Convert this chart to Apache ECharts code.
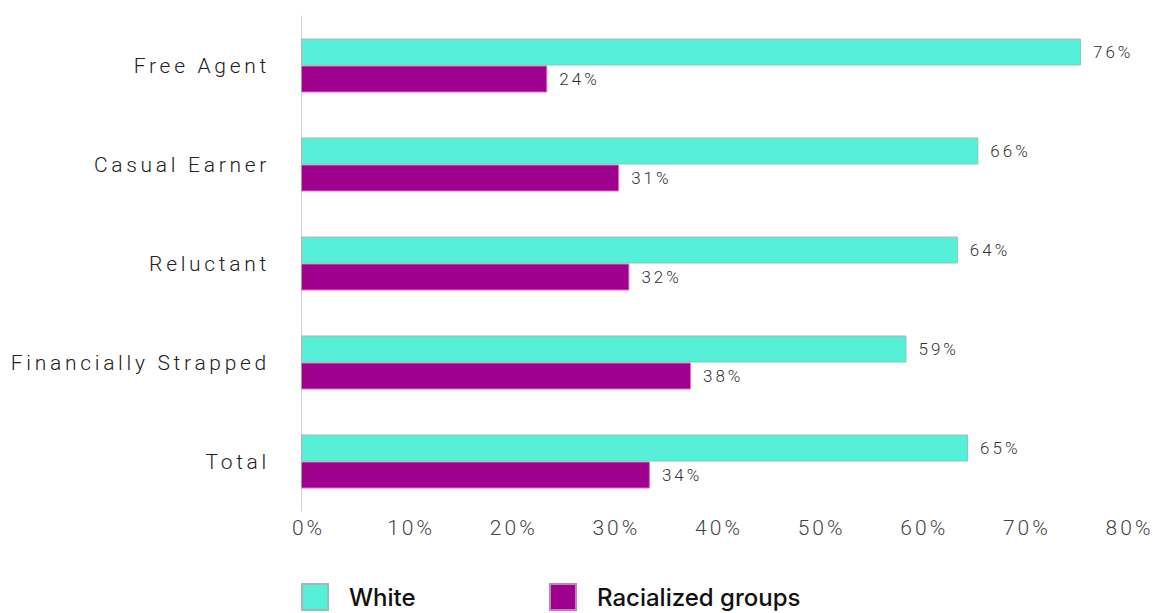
<!DOCTYPE html>
<html>
<head>
<meta charset="utf-8">
<style>
  html, body { margin: 0; padding: 0; background: #ffffff; }
  #chart { width: 1154px; height: 613px; }
  /* airy tracking for the light axis and value text */
  #chart text[style*="Roboto"] { letter-spacing: 3px; }
  #chart text[style*="Noto"] { letter-spacing: 3.7px; }
</style>
<script src="https://cdn.jsdelivr.net/npm/echarts@6/dist/echarts.min.js"></script>
</head>
<body>
<div id="chart"></div>
<script>
// Share of each worker segment, by group (percent)
const categories = ['Free Agent', 'Casual Earner', 'Reluctant', 'Financially Strapped', 'Total'];
const whiteValues = [76, 66, 64, 59, 65];
const racializedValues = [24, 31, 32, 38, 34];
const seriesNames = ['White', 'Racialized groups'];
const axisTicks = [0, 10, 20, 30, 40, 50, 60, 70, 80];

const TEAL = '#55f0d7';
const PURPLE = '#a0008e';
const lightFont = 'Roboto, sans-serif';
const categoryFont = 'Roboto, "Noto Sans", sans-serif';

const chart = echarts.init(document.getElementById('chart'), null, { renderer: 'svg' });

const valueLabel = {
  show: true,
  position: 'right',
  distance: 12,
  formatter: p => p.value + '%',
  fontFamily: lightFont,
  fontWeight: 300,
  fontSize: 17,
  color: '#333333'
};

const legendText = {
  fontFamily: 'Inter, "Liberation Sans", sans-serif',
  fontWeight: 500,
  fontSize: 24,
  lineHeight: 24,
  color: '#111111',
  padding: [0, 0, 0, 16]
};

chart.setOption({
  backgroundColor: '#ffffff',
  animation: false,
  grid: { left: 301, right: 32, top: 16, bottom: 102, containLabel: false },
  legend: [
    {
      data: [seriesNames[0]], left: 301, top: 583, padding: 0,
      icon: 'rect', itemWidth: 26, itemHeight: 26,
      selectedMode: false, textStyle: legendText
    },
    {
      data: [seriesNames[1]], left: 549, top: 583, padding: 0,
      icon: 'rect', itemWidth: 26, itemHeight: 26,
      selectedMode: false, textStyle: legendText
    }
  ],
  xAxis: {
    type: 'value',
    min: axisTicks[0],
    max: axisTicks[axisTicks.length - 1],
    interval: axisTicks[1] - axisTicks[0],
    axisLine: { show: false },
    axisTick: { show: false },
    splitLine: { show: false },
    axisLabel: {
      formatter: v => v + '%',
      fontFamily: lightFont,
      fontWeight: 300,
      fontSize: 21,
      color: '#444444',
      margin: 6,
      padding: [0, 0, 0, 15]
    }
  },
  yAxis: {
    type: 'category',
    data: categories,
    inverse: true,
    axisLine: { show: true, lineStyle: { color: '#d0d0d0', width: 1 } },
    axisTick: { show: false },
    splitLine: { show: false },
    axisLabel: {
      fontFamily: categoryFont,
      fontWeight: 300,
      fontSize: 21,
      color: '#222222',
      margin: 31
    }
  },
  series: [
    {
      name: seriesNames[0],
      type: 'bar',
      data: whiteValues,
      barWidth: 27,
      barGap: '0%',
      itemStyle: { color: TEAL, borderColor: '#9bbdb6', borderWidth: 1 },
      label: valueLabel
    },
    {
      name: seriesNames[1],
      type: 'bar',
      data: racializedValues,
      barWidth: 27,
      barGap: '0%',
      itemStyle: { color: PURPLE, borderColor: '#c77fbf', borderWidth: 1 },
      label: valueLabel
    }
  ]
});
</script>
</body>
</html>
